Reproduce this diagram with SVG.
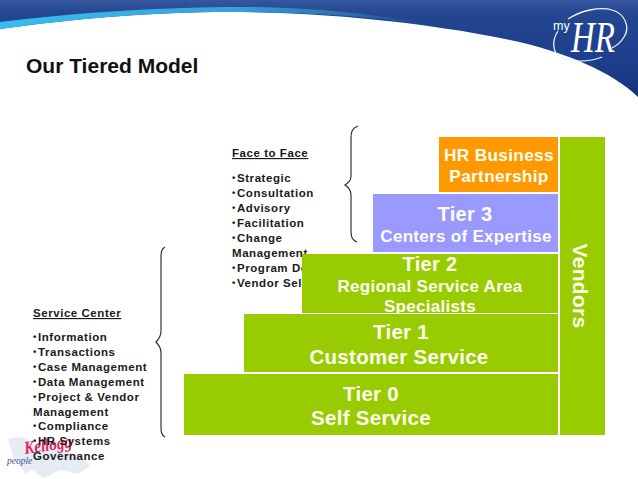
<svg xmlns="http://www.w3.org/2000/svg" width="638" height="479" viewBox="0 0 638 479">
<defs>
<linearGradient id="hdr" gradientUnits="userSpaceOnUse" x1="0" y1="0" x2="0" y2="97"><stop offset="0" stop-color="#34579f"/><stop offset="0.14" stop-color="#23468f"/><stop offset="0.6" stop-color="#1e3f8c"/><stop offset="1" stop-color="#12357a"/></linearGradient>
<linearGradient id="stripe" gradientUnits="userSpaceOnUse" x1="0" y1="0" x2="430" y2="0"><stop offset="0" stop-color="#35bff2"/><stop offset="0.55" stop-color="#3aa0d8"/><stop offset="1" stop-color="#23468f"/></linearGradient>
</defs>
<style>
text{font-family:"Liberation Sans",Arial,sans-serif;font-weight:700}
.w{fill:#fdfdf0;text-anchor:middle}
.k{fill:#1a1a1a;font-size:11.5px;letter-spacing:.55px}
.bu{font-size:9.5px;baseline-shift:1.5px}
.b{fill:none;stroke:#222;stroke-width:1.1}
.logo{fill:none;stroke:#eef2fa;stroke-width:1.3}
</style>
<rect width="638" height="479" fill="#fff"/>
<g id="header">
<path d="M0 0H638V97C612 72 566 52 510 40C450 27 340 12 230 12C150 12 70 19 0 29Z" fill="url(#hdr)"/>
<path d="M0 22C80 12 170 7 240 7C300 7 370 12 430 25C370 16 310 12 230 12C150 12 70 19 0 29Z" fill="url(#stripe)"/>
</g>
<g id="logo-myhr">
<path class="logo" d="M568 19C580 11 600 6 612 10C626 14 630 28 624 37C621 42 616 46 612 48"/>
<path class="logo" d="M558 31C552 40 552 52 560 57C570 63 590 62 602 57"/>
<text x="553" y="30" fill="#fff" font-size="12.5" style="font-weight:400">my</text>
<text transform="translate(571 52) scale(1 1.35)" fill="#fff" font-size="33" font-style="italic" style="font-family:'Liberation Serif',serif;font-weight:400">HR</text>
</g>
<text id="title" x="26" y="73" font-size="21" fill="#111">Our Tiered Model</text>
<g id="logo-kellogg">
<path d="M8 440C16 434 28 438 34 444C42 446 52 442 60 450C72 452 82 456 90 466L78 474L60 470L44 478L32 470L26 474L14 458Z" fill="#dfe5f0" opacity=".75"/>
<text transform="translate(25 454) rotate(-8)" fill="#d9265a" font-size="18" font-style="italic" style="font-family:'Liberation Serif',serif" textLength="48" lengthAdjust="spacingAndGlyphs">Kellogg</text>
<text x="7" y="464" fill="#44508a" font-size="9.5" font-style="italic" style="font-family:'Liberation Serif',serif;font-weight:400">people</text>
</g>
<g id="face-to-face">
<text x="232" y="157" class="k" text-decoration="underline">Face to Face</text>
<text class="k">
<tspan x="232" y="182" class="bu">•</tspan><tspan x="237">Strategic</tspan>
<tspan x="232" y="197" class="bu">•</tspan><tspan x="237">Consultation</tspan>
<tspan x="232" y="212" class="bu">•</tspan><tspan x="237">Advisory</tspan>
<tspan x="232" y="227" class="bu">•</tspan><tspan x="237">Facilitation</tspan>
<tspan x="232" y="242" class="bu">•</tspan><tspan x="237">Change</tspan>
<tspan x="232" y="257">Management</tspan>
<tspan x="232" y="272" class="bu">•</tspan><tspan x="237">Program Design</tspan>
<tspan x="232" y="287" class="bu">•</tspan><tspan x="237">Vendor Selection</tspan>
</text>
</g>
<g id="service-center">
<text x="33" y="317" class="k" text-decoration="underline">Service Center</text>
<text class="k">
<tspan x="33" y="341" class="bu">•</tspan><tspan x="38">Information</tspan>
<tspan x="33" y="356" class="bu">•</tspan><tspan x="38">Transactions</tspan>
<tspan x="33" y="371" class="bu">•</tspan><tspan x="38">Case Management</tspan>
<tspan x="33" y="386" class="bu">•</tspan><tspan x="38">Data Management</tspan>
<tspan x="33" y="401" class="bu">•</tspan><tspan x="38">Project &amp; Vendor</tspan>
<tspan x="33" y="416">Management</tspan>
<tspan x="33" y="430" class="bu">•</tspan><tspan x="38">Compliance</tspan>
<tspan x="33" y="445" class="bu">•</tspan><tspan x="38">HR Systems</tspan>
<tspan x="33" y="460">Governance</tspan>
</text>
</g>
<g id="connectors">
<path class="b" d="M358 126C352 128 351 132 351 138V176C351 181 348 183 345 185C348 187 351 190 351 195V231C351 237 352 240 357 242"/>
<path class="b" d="M165 247C161 249 161 253 161 259V331C161 337 158 340 156 342C158 344 161 347 161 353V425C161 431 161 435 165 437"/>
</g>
<g id="tier-hr"><rect x="439" y="137" width="119" height="55" fill="#ff9900"/>
<text class="w" x="499" y="161" font-size="17.3" letter-spacing=".3">HR Business</text>
<text class="w" x="499" y="182" font-size="17.3" letter-spacing=".3">Partnership</text></g>
<g id="tier-3"><rect x="373" y="194" width="185" height="58" fill="#9999ff"/>
<text class="w" x="465" y="221" font-size="20" letter-spacing=".3">Tier 3</text>
<text class="w" x="466" y="242" font-size="17" letter-spacing=".3">Centers of Expertise</text></g>
<g id="tier-2"><rect x="302" y="254" width="256" height="59" fill="#99cc00"/>
<text class="w" x="430" y="271" font-size="20" letter-spacing=".3">Tier 2</text>
<text class="w" x="430" y="292" font-size="17" letter-spacing=".3">Regional Service Area</text>
<text class="w" x="430" y="312" font-size="17" letter-spacing=".3">Specialists</text></g>
<g id="tier-1"><rect x="244" y="314" width="314" height="58" fill="#99cc00"/>
<text class="w" x="401" y="339" font-size="20.5" letter-spacing=".3">Tier 1</text>
<text class="w" x="399" y="364" font-size="20.5" letter-spacing=".3">Customer Service</text></g>
<g id="tier-0"><rect x="184" y="374" width="374" height="61" fill="#99cc00"/>
<text class="w" x="371" y="401" font-size="20.5" letter-spacing=".3">Tier 0</text>
<text class="w" x="371" y="425" font-size="20.5" letter-spacing=".3">Self Service</text></g>
<g id="vendors"><rect x="560" y="137" width="45" height="298" fill="#99cc00"/>
<text class="w" transform="translate(573 286) rotate(90)" font-size="21" letter-spacing=".3">Vendors</text></g>
</svg>
